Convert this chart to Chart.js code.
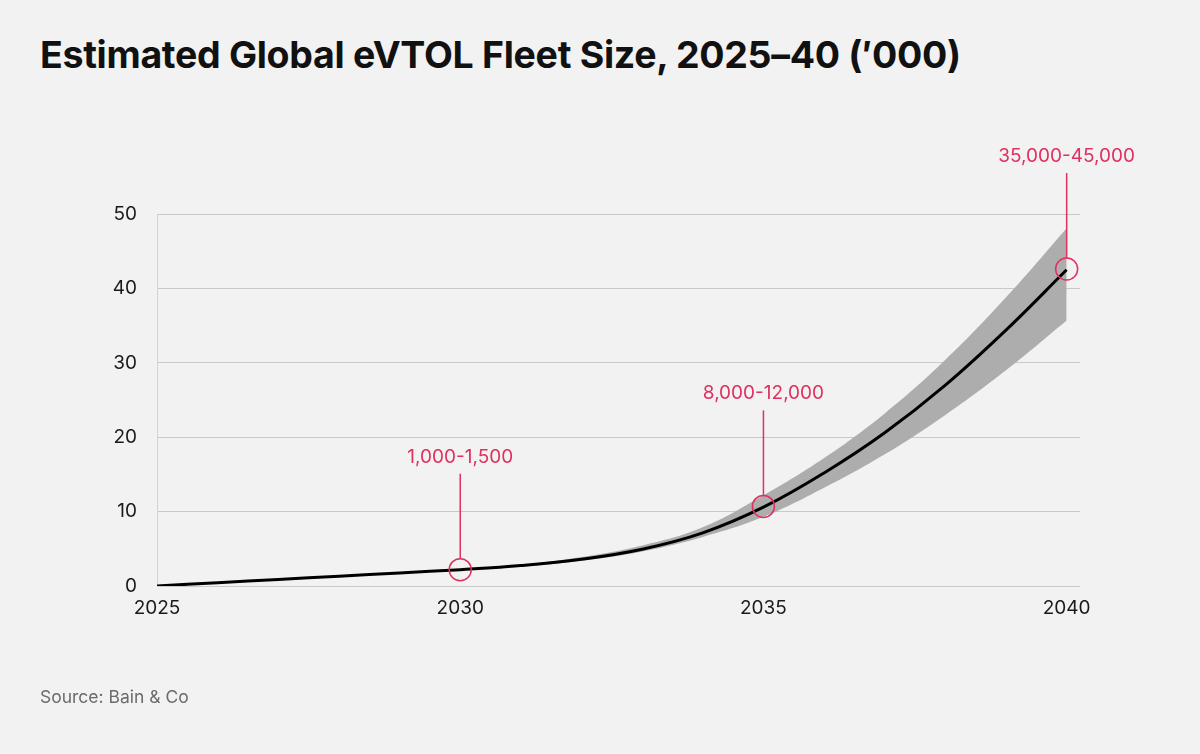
<!DOCTYPE html>
<html>
<head>
<meta charset="utf-8">
<title>Estimated Global eVTOL Fleet Size</title>
<script src="https://cdn.jsdelivr.net/npm/chart.js@4.4.0/dist/chart.umd.min.js"></script>
<style>
  html, body { margin: 0; padding: 0; background: #f2f2f2; }
  body { width: 1200px; height: 754px; position: relative; overflow: hidden; font-family: Inter, "Noto Sans", sans-serif; }
  h1 { position: absolute; left: 40px; top: 36px; margin: 0; font-size: 37.5px; line-height: 1; font-weight: 700; color: #111; letter-spacing: -0.3px; white-space: nowrap; }
  .source { position: absolute; left: 40px; top: 688px; font-size: 17.5px; line-height: 1; color: #6b6b6b; }
  #fleetChart { position: absolute; left: 0; top: 0; }
</style>
</head>
<body>
<h1>Estimated Global eVTOL Fleet Size, 2025–40 (′000)</h1>
<canvas id="fleetChart" width="1200" height="754"></canvas>
<div class="source">Source: Bain &amp; Co</div>

<script>
// values in thousands of aircraft
const years = [2025, 2026, 2027, 2028, 2029, 2030, 2031, 2032, 2033, 2034, 2035, 2036, 2037, 2038, 2039, 2040];
const fleetMid  = [0, 0.44, 0.88, 1.32, 1.76, 2.2, 2.75, 3.6, 4.95, 7.15, 10.6, 15.2, 20.6, 27.0, 34.4, 42.5];
const fleetLow  = [0, 0.44, 0.88, 1.3, 1.72, 2.12, 2.6, 3.4, 4.65, 6.6, 9.3, 13.2, 17.7, 23.0, 29.0, 35.7];
const fleetHigh = [0, 0.44, 0.88, 1.34, 1.8, 2.3, 2.85, 3.9, 5.45, 7.9, 12.2, 17.2, 23.2, 30.4, 38.8, 48.1];

const xTicks = [2025, 2030, 2035, 2040];
const yTicks = [0, 10, 20, 30, 40, 50];

const markerYears  = [2030, 2035, 2040];
const markerValues = [2.2, 10.7, 42.6];
const markerLabels = ['1,000-1,500', '8,000-12,000', '35,000-45,000'];

const PINK = '#e0305f';

function toPoints(xs, ys) {
    return xs.map((x, i) => ({ x: x, y: ys[i] }));
}

// vertical leader line + range label above each marker
const calloutPlugin = {
    id: 'callouts',
    afterDatasetsDraw(chart) {
        const ctx = chart.ctx;
        const x = chart.scales.x;
        const y = chart.scales.y;
        ctx.save();
        ctx.strokeStyle = PINK;
        ctx.fillStyle = PINK;
        ctx.lineWidth = 1.5;
        ctx.font = '19px Inter, "Noto Sans", sans-serif';
        ctx.textAlign = 'center';
        ctx.textBaseline = 'alphabetic';
        markerYears.forEach((yr, i) => {
            const px = x.getPixelForValue(yr);
            const py = y.getPixelForValue(markerValues[i]);
            const top = py - 11 - 85;
            ctx.beginPath();
            ctx.moveTo(px, py - 11);
            ctx.lineTo(px, top);
            ctx.stroke();
            ctx.fillText(markerLabels[i], px, top - 11);
        });
        ctx.restore();
    }
};

document.addEventListener('DOMContentLoaded', function() {
    const ctx = document.getElementById('fleetChart').getContext('2d');
    const grafico = new Chart(ctx, {
        type: 'line',
        data: {
            datasets: [
                {
                    label: 'Markers',
                    data: toPoints(markerYears, markerValues),
                    showLine: false,
                    pointRadius: 11,
                    pointHoverRadius: 11,
                    pointBorderWidth: 1.5,
                    pointBorderColor: PINK,
                    pointBackgroundColor: 'rgba(0,0,0,0)',
                    order: 0
                },
                {
                    label: 'Estimate',
                    data: toPoints(years, fleetMid),
                    borderColor: '#000',
                    borderWidth: 3,
                    pointRadius: 0,
                    tension: 0.4,
                    fill: false,
                    order: 1
                },
                {
                    label: 'High',
                    data: toPoints(years, fleetHigh),
                    borderWidth: 0,
                    borderColor: 'rgba(0,0,0,0)',
                    backgroundColor: '#adadad',
                    pointRadius: 0,
                    tension: 0.4,
                    fill: '+1',
                    order: 2
                },
                {
                    label: 'Low',
                    data: toPoints(years, fleetLow),
                    borderWidth: 0,
                    borderColor: 'rgba(0,0,0,0)',
                    pointRadius: 0,
                    tension: 0.4,
                    fill: false,
                    order: 3
                }
            ]
        },
        options: {
            responsive: false,
            animation: false,
            layout: { padding: { top: 214, right: 120, bottom: 0, left: 0 } },
            plugins: {
                legend: { display: false },
                tooltip: { enabled: false }
            },
            scales: {
                x: {
                    type: 'linear',
                    min: 2025,
                    max: 2040.22,
                    afterBuildTicks: axis => { axis.ticks = xTicks.map(v => ({ value: v })); },
                    afterFit: axis => { axis.height = 168; },
                    grid: { display: false, drawTicks: false },
                    border: { display: false },
                    ticks: {
                        autoSkip: false,
                        maxRotation: 0,
                        padding: 11,
                        color: '#1a1a1a',
                        font: { family: 'Inter', size: 19 },
                        callback: v => String(v)
                    }
                },
                y: {
                    min: 0,
                    max: 50,
                    afterBuildTicks: axis => { axis.ticks = yTicks.map(v => ({ value: v })); },
                    afterFit: axis => { axis.width = 157; },
                    grid: { color: '#c9c9c9', lineWidth: 1, drawTicks: false },
                    border: { display: true, color: '#d4d4d4', width: 1 },
                    ticks: {
                        padding: 20,
                        color: '#1a1a1a',
                        font: { family: 'Inter', size: 19 },
                        callback: v => String(v)
                    }
                }
            }
        },
        plugins: [calloutPlugin]
    });
});
</script>
</body>
</html>
